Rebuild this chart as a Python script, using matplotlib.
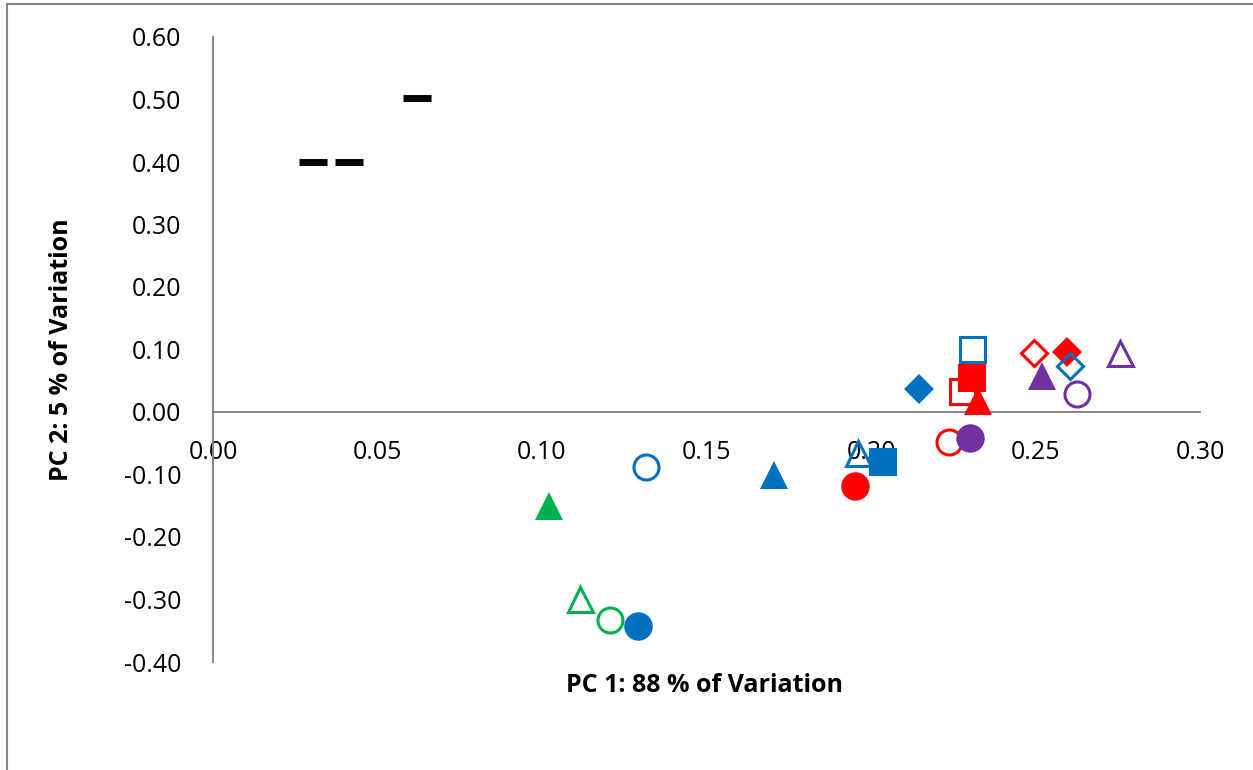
import matplotlib.pyplot as plt
from matplotlib.patches import Rectangle

# PCA scores (PC1, PC2), one point per sample
pc1 = [0.0305, 0.0414, 0.0621,
       0.1021, 0.1116, 0.1207,
       0.1315, 0.1291, 0.1706, 0.1960, 0.2036,
       0.2147, 0.2306, 0.2605,
       0.1952, 0.2237, 0.2276, 0.2307, 0.2325, 0.2495, 0.2595,
       0.2301, 0.2520, 0.2625, 0.2757]
pc2 = [0.400, 0.400, 0.502,
       -0.150, -0.299, -0.332,
       -0.0875, -0.342, -0.1016, -0.0656, -0.0795,
       0.0363, 0.1008, 0.0736,
       -0.118, -0.0475, 0.0341, 0.0544, 0.0176, 0.0949, 0.096,
       -0.0416, 0.0576, 0.0288, 0.0944]

x_ticks = [0.00, 0.05, 0.10, 0.15, 0.20, 0.25, 0.30]
y_ticks = [-0.4, -0.3, -0.2, -0.1, 0.0, 0.1, 0.2, 0.3, 0.4, 0.5, 0.6]

# style per point: colour, marker, filled
blue, red, green, purple = '#0070C0', '#FF0000', '#00B050', '#7030A0'
colors = ['black'] * 3 + [green] * 3 + [blue] * 8 + [red] * 7 + [purple] * 4
markers = ['_', '_', '_',
           '^', '^', 'o',
           'o', 'o', '^', '^', 's',
           'D', 's', 'D',
           'o', 'o', 's', 's', '^', 'D', 'D',
           'o', '^', 'o', '^']
filled = [True, True, True,
          True, False, False,
          False, True, True, False, True,
          True, False, False,
          True, False, False, True, True, False, True,
          True, True, False, False]

# drawing order so overlaps look like the original
order = [0, 1, 2, 3, 4, 5, 7, 6, 8, 14, 9, 10, 11, 16, 17, 18, 12,
         19, 20, 13, 15, 21, 22, 23, 24]

W, H = 1253, 770
fig = plt.figure(figsize=(W / 100, H / 100), dpi=100)
ax = fig.add_axes([213 / W, 1 - 662 / H, (1200 - 213) / W, (662 - 37) / H])

font = 'Open Sans'

for s in ['top', 'right']:
    ax.spines[s].set_visible(False)
ax.spines['bottom'].set_position(('data', 0))
for s in ['left', 'bottom']:
    ax.spines[s].set_color('#868686')
    ax.spines[s].set_linewidth(1.4)
ax.patch.set_visible(False)

for i in order:
    c, m = colors[i], markers[i]
    if m == '_':
        ax.plot(pc1[i], pc2[i], marker=m, ms=20, mew=5, color=c,
                linestyle='none', zorder=3, clip_on=False)
        continue
    ms = 20.5 if filled[i] else 18.0
    if m == 'D':
        ms = 14.8 if filled[i] else 13.0
    if filled[i]:
        ax.plot(pc1[i], pc2[i], marker=m, ms=ms, mfc=c, mec=c, mew=0,
                linestyle='none', zorder=3, clip_on=False)
    else:
        ax.plot(pc1[i], pc2[i], marker=m, ms=ms, mfc='none', mec=c, mew=2.2,
                linestyle='none', zorder=3, clip_on=False)

ax.set_xlim(0, 0.30)
ax.set_ylim(-0.40, 0.60)
ax.set_xticks(x_ticks)
ax.set_yticks(y_ticks)
ax.set_xticklabels(['%.2f' % v for v in x_ticks], fontfamily=font, fontsize=18)
ax.set_yticklabels(['%.2f' % v for v in y_ticks], fontfamily=font, fontsize=18)
ax.tick_params(axis='x', length=0, pad=20)
ax.tick_params(axis='y', length=0, pad=23)

fig.text(705 / W, 1 - 686 / H, 'PC 1: 88 % of Variation', fontfamily=font,
         fontsize=18, fontweight='bold', ha='center', va='center')
fig.text(62 / W, 1 - 350 / H, 'PC 2: 5 % of Variation', fontfamily=font,
         fontsize=18, fontweight='bold', ha='center', va='center', rotation=90)

# chart area border (only left and top visible in the crop)
fig.add_artist(Rectangle((7 / W, -0.1), 1.2, 1.1 - 4 / H, transform=fig.transFigure,
                         fill=False, edgecolor='#868686', linewidth=1.5))

fig.savefig('out.png', dpi=100)
